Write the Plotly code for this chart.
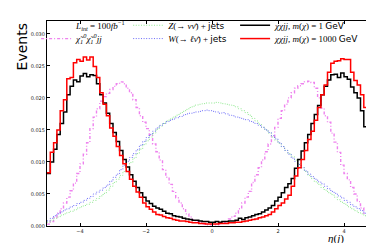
import plotly.graph_objects as go

# bin edges: 100 bins of width 0.1 over [-5, 5]
eta_min, eta_max, n_bins = -5.0, 5.0, 100
edges = [eta_min + (eta_max - eta_min) * k / n_bins for k in range(n_bins + 1)]

chi_1gev = [
    0.0082, 0.0100, 0.0120, 0.0143, 0.0160, 0.0178, 0.0205, 0.0218, 0.0228, 0.0225,
    0.0234, 0.0238, 0.0233, 0.0236, 0.0235, 0.0222, 0.0205, 0.0192, 0.0176, 0.0160,
    0.0146, 0.0132, 0.0118, 0.0104, 0.0092, 0.0080, 0.0070, 0.0060, 0.0052, 0.0045,
    0.0039, 0.0035, 0.0031, 0.0028, 0.0026, 0.0023, 0.0020, 0.0019, 0.0016, 0.0015,
    0.0014, 0.0012, 0.0011, 0.0010, 0.0009, 0.0009, 0.0008, 0.0007, 0.0007, 0.0006,
    0.0006, 0.0007, 0.0006, 0.0007, 0.0007, 0.0008, 0.0008, 0.0009, 0.0012, 0.0010,
    0.0013, 0.0014, 0.0016, 0.0018, 0.0019, 0.0022, 0.0025, 0.0028, 0.0032, 0.0039,
    0.0045, 0.0052, 0.0060, 0.0066, 0.0074, 0.0090, 0.0104, 0.0117, 0.0130, 0.0143,
    0.0160, 0.0174, 0.0188, 0.0205, 0.0218, 0.0228, 0.0236, 0.0237, 0.0232, 0.0239,
    0.0233, 0.0229, 0.0217, 0.0208, 0.0200, 0.0180, 0.0155, 0.0140, 0.0120, 0.0085,
]

chi_1000gev = [
    0.0083, 0.0115, 0.0130, 0.0150, 0.0180, 0.0197, 0.0230, 0.0232, 0.0255, 0.0260,
    0.0257, 0.0264, 0.0259, 0.0264, 0.0249, 0.0232, 0.0208, 0.0190, 0.0172, 0.0153,
    0.0140, 0.0124, 0.0110, 0.0097, 0.0085, 0.0073, 0.0062, 0.0053, 0.0045, 0.0036,
    0.0030, 0.0026, 0.0022, 0.0018, 0.0017, 0.0015, 0.0013, 0.0012, 0.0010, 0.0009,
    0.0008, 0.0008, 0.0007, 0.0006, 0.0005, 0.0005, 0.0004, 0.0004, 0.0003, 0.0003,
    0.0003, 0.0003, 0.0004, 0.0004, 0.0004, 0.0005, 0.0005, 0.0006, 0.0006, 0.0007,
    0.0008, 0.0009, 0.0010, 0.0011, 0.0013, 0.0014, 0.0016, 0.0018, 0.0022, 0.0027,
    0.0032, 0.0036, 0.0042, 0.0048, 0.0062, 0.0078, 0.0091, 0.0104, 0.0118, 0.0135,
    0.0148, 0.0165, 0.0185, 0.0205, 0.0220, 0.0240, 0.0254, 0.0257, 0.0258, 0.0261,
    0.0260, 0.0260, 0.0240, 0.0227, 0.0220, 0.0205, 0.0185, 0.0162, 0.0132, 0.0100,
]

neutralino = [
    0.0003, 0.0007, 0.0013, 0.0020, 0.0027, 0.0036, 0.0045, 0.0055, 0.0067, 0.0082,
    0.0097, 0.0112, 0.0130, 0.0152, 0.0170, 0.0183, 0.0195, 0.0202, 0.0207, 0.0213,
    0.0218, 0.0222, 0.0225, 0.0222, 0.0215, 0.0208, 0.0197, 0.0185, 0.0172, 0.0162,
    0.0152, 0.0142, 0.0128, 0.0116, 0.0103, 0.0088, 0.0076, 0.0065, 0.0054, 0.0044,
    0.0036, 0.0027, 0.0019, 0.0014, 0.0010, 0.0007, 0.0005, 0.0003, 0.0002, 0.0002,
    0.0002, 0.0002, 0.0003, 0.0005, 0.0007, 0.0011, 0.0015, 0.0020, 0.0027, 0.0036,
    0.0045, 0.0054, 0.0068, 0.0080, 0.0091, 0.0103, 0.0116, 0.0128, 0.0139, 0.0154,
    0.0168, 0.0180, 0.0190, 0.0200, 0.0208, 0.0215, 0.0219, 0.0222, 0.0225, 0.0226,
    0.0224, 0.0215, 0.0200, 0.0184, 0.0172, 0.0162, 0.0145, 0.0131, 0.0115, 0.0095,
    0.0082, 0.0072, 0.0060, 0.0050, 0.0038, 0.0028, 0.0020, 0.0013, 0.0008, 0.0004,
]

z_jets = [
    0.0006, 0.0009, 0.0012, 0.0014, 0.0017, 0.0019, 0.0021, 0.0023, 0.0025, 0.0028,
    0.0030, 0.0032, 0.0034, 0.0037, 0.0040, 0.0043, 0.0047, 0.0051, 0.0056, 0.0062,
    0.0068, 0.0073, 0.0079, 0.0085, 0.0092, 0.0099, 0.0106, 0.0113, 0.0120, 0.0127,
    0.0133, 0.0139, 0.0145, 0.0151, 0.0156, 0.0160, 0.0164, 0.0167, 0.0170, 0.0173,
    0.0176, 0.0179, 0.0182, 0.0185, 0.0187, 0.0189, 0.0190, 0.0191, 0.0192, 0.0192,
    0.0192, 0.0193, 0.0192, 0.0191, 0.0190, 0.0189, 0.0188, 0.0186, 0.0183, 0.0180,
    0.0177, 0.0173, 0.0168, 0.0164, 0.0159, 0.0154, 0.0150, 0.0145, 0.0139, 0.0134,
    0.0129, 0.0124, 0.0118, 0.0113, 0.0108, 0.0103, 0.0097, 0.0091, 0.0085, 0.0079,
    0.0074, 0.0069, 0.0065, 0.0060, 0.0056, 0.0052, 0.0049, 0.0045, 0.0041, 0.0037,
    0.0034, 0.0030, 0.0027, 0.0024, 0.0021, 0.0019, 0.0016, 0.0013, 0.0010, 0.0007,
]

w_jets = [
    0.0008, 0.0012, 0.0016, 0.0019, 0.0022, 0.0025, 0.0027, 0.0030, 0.0032, 0.0035,
    0.0037, 0.0040, 0.0043, 0.0046, 0.0050, 0.0053, 0.0056, 0.0060, 0.0064, 0.0070,
    0.0076, 0.0081, 0.0088, 0.0095, 0.0101, 0.0107, 0.0113, 0.0119, 0.0126, 0.0132,
    0.0138, 0.0143, 0.0148, 0.0153, 0.0157, 0.0160, 0.0163, 0.0165, 0.0167, 0.0169,
    0.0171, 0.0173, 0.0175, 0.0176, 0.0177, 0.0178, 0.0179, 0.0180, 0.0181, 0.0180,
    0.0179, 0.0178, 0.0176, 0.0177, 0.0175, 0.0173, 0.0172, 0.0170, 0.0169, 0.0167,
    0.0166, 0.0164, 0.0162, 0.0160, 0.0157, 0.0154, 0.0150, 0.0146, 0.0141, 0.0136,
    0.0130, 0.0124, 0.0118, 0.0112, 0.0106, 0.0101, 0.0096, 0.0091, 0.0086, 0.0081,
    0.0077, 0.0073, 0.0069, 0.0066, 0.0062, 0.0058, 0.0054, 0.0051, 0.0047, 0.0044,
    0.0040, 0.0037, 0.0033, 0.0030, 0.0027, 0.0024, 0.0020, 0.0016, 0.0012, 0.0008,
]

x_ticks = [-4, -2, 0, 2, 4]
y_ticks = [0.000, 0.005, 0.010, 0.015, 0.020, 0.025, 0.030]

SERIF = "Liberation Serif"
SANS = "DejaVu Sans"


def sans(t):
    return f"<span style=\"font-family:'{SANS}';font-style:normal\">{t}</span>"


lab_lumi = "<i>L<sub>int</sub></i> = 100<i>fb</i><sup>−1</sup>"
lab_z = "<i>Z</i>(→ <i>νν̄</i>) + " + sans("jets")
lab_chi1 = "<i>χχjj</i>, <i>m</i>(<i>χ</i>) = 1 " + sans("GeV")
lab_neu = "<i>χ̃<sub>1</sub><sup>0</sup>χ̃<sub>1</sub><sup>0</sup>jj</i>"
lab_w = "<i>W</i>(→ <i>ℓν̄</i>) + " + sans("jets")
lab_chi1000 = "<i>χχjj</i>, <i>m</i>(<i>χ</i>) = 1000 " + sans("GeV")


def step(vals):
    # histogram step: value held from each left edge to the next edge
    return edges, list(vals) + [vals[-1]]


fig = go.Figure()

# dummy entry for the luminosity label
fig.add_trace(go.Scatter(x=[None], y=[None], mode="lines", name=lab_lumi,
                         line=dict(color="rgba(0,0,0,0)", width=0), legend="legend"))

series = [
    (neutralino, lab_neu, dict(color="violet", width=1.4, dash="3px,2px,1px,2px"), "legend4"),
    (z_jets, lab_z, dict(color="#8fe88f", width=1.0, dash="1px,1.6px"), "legend2"),
    (w_jets, lab_w, dict(color="#6b6bf7", width=1.0, dash="1px,1.6px"), "legend5"),
    (chi_1gev, lab_chi1, dict(color="black", width=1.5), "legend3"),
    (chi_1000gev, lab_chi1000, dict(color="red", width=1.5), "legend6"),
]
for vals, name, line, leg in series:
    xs, ys = step(vals)
    fig.add_trace(go.Scatter(x=xs, y=ys, mode="lines", line_shape="hv", name=name,
                             line=line, legend=leg, hoverinfo="skip"))

axis_common = dict(showline=True, linecolor="black", linewidth=1, mirror="ticks",
                   ticks="inside", ticklen=3, tickwidth=0.8, tickcolor="black",
                   showgrid=False, zeroline=False,
                   tickfont=dict(family=SANS, size=5, color="#222"))

fig.update_xaxes(range=[eta_min, eta_max], tickvals=x_ticks, **axis_common)
fig.update_yaxes(range=[0, 0.032], tickvals=y_ticks, tickformat=".3f", **axis_common)

leg_common = dict(orientation="v", xanchor="left", yanchor="top",
                  bgcolor="rgba(0,0,0,0)", borderwidth=0, itemwidth=30,
                  font=dict(family=SERIF, size=9, color="black"))
col_x = [-0.033, 0.246, 0.57]
row_y = [1.050, 0.985]

fig.update_layout(
    width=374, height=243,
    margin=dict(l=39, r=5, t=3, b=25),
    paper_bgcolor="white", plot_bgcolor="white",
    font=dict(family=SERIF, size=9, color="black"),
    showlegend=True,
    legend=dict(x=col_x[0], y=row_y[0], **leg_common),
    legend2=dict(x=col_x[1], y=row_y[0], **leg_common),
    legend3=dict(x=col_x[2], y=row_y[0], **leg_common),
    legend4=dict(x=col_x[0], y=row_y[1], **leg_common),
    legend5=dict(x=col_x[1], y=row_y[1], **leg_common),
    legend6=dict(x=col_x[2], y=row_y[1], **leg_common),
    annotations=[
        dict(text="Events", xref="paper", yref="paper", x=-0.076, y=1.0,
             xanchor="center", yanchor="top", textangle=-90, showarrow=False,
             font=dict(family=SANS, size=14, color="black")),
        dict(text="<i>η</i>(<i>j</i>)", xref="paper", yref="paper", x=0.875, y=-0.1,
             xanchor="center", yanchor="bottom", showarrow=False,
             font=dict(family=SERIF, size=11, color="black")),
    ],
)

fig.write_html("out.html")
